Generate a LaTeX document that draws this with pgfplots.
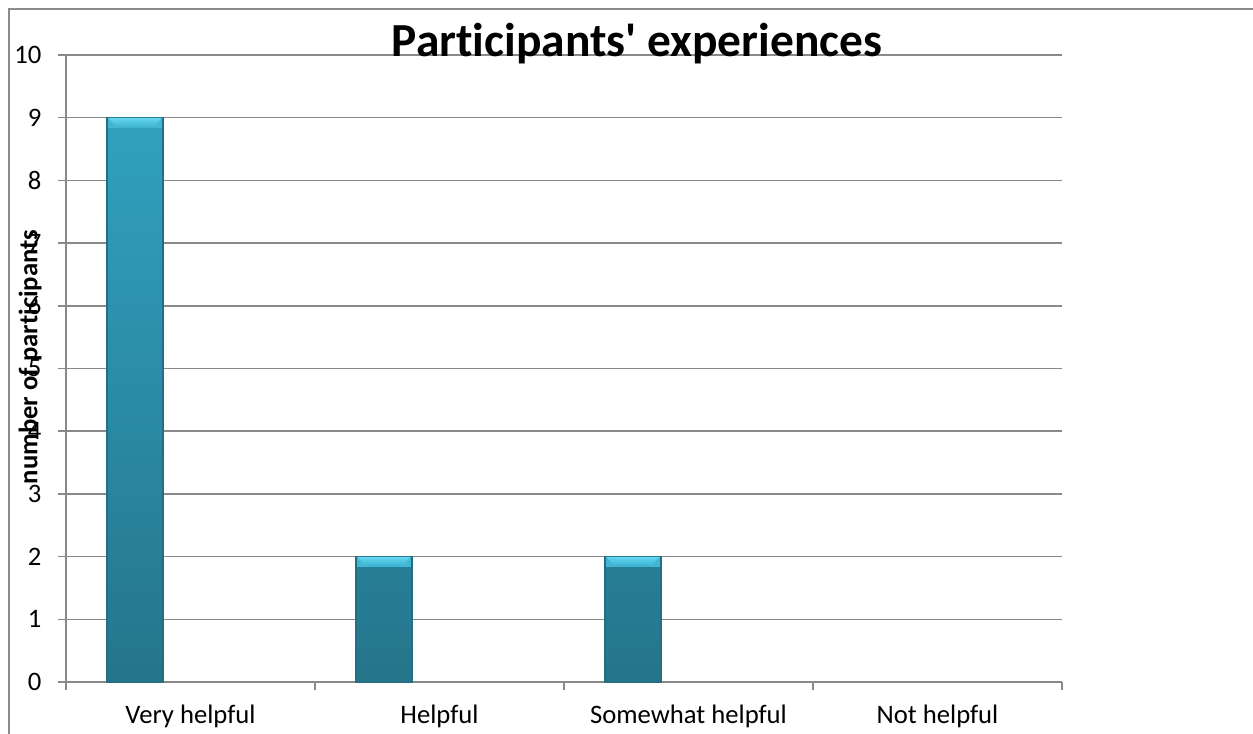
\documentclass[border=0pt]{standalone}
\usepackage{fontspec}
\setmainfont{Carlito}[Ligatures=NoCommon]
\usepackage{pgfplots}
\pgfplotsset{compat=1.18}

\definecolor{gridgray}{HTML}{898989}
\definecolor{framegray}{HTML}{8C8C8C}
\definecolor{bartop}{HTML}{31A1BF}
\definecolor{barbot}{HTML}{25758B}
\definecolor{baredge}{HTML}{236E83}
\definecolor{captop}{HTML}{62D6F0}
\definecolor{capbot}{HTML}{3AAFCC}
\definecolor{bevel}{HTML}{45B6D2}

% bar positions sit in the left part of each category slot
\pgfplotstableread{
x      n  label
0.277  9  {Very helpful}
1.277  2  {Helpful}
2.277  2  {Somewhat helpful}
3.277  0  {Not helpful}
}\experiences

\begin{document}
\begin{tikzpicture}
\useasboundingbox (-49.5pt,-38.25pt) rectangle (890.25pt,511.5pt);
% outer chart frame
\draw[framegray, line width=0.8pt] (-42.75pt,-80pt) -- (-42.75pt,504.75pt) -- (980pt,504.75pt);
\begin{axis}[
  at={(0,0)}, anchor=south west,
  scale only axis, width=747pt, height=470.25pt,
  xmin=0, xmax=4, ymin=0, ymax=10,
  separate axis lines,
  axis x line*=bottom, axis y line*=left,
  axis line style={draw=gridgray, line width=1.1pt, -},
  ytick={0,...,10},
  ymajorgrids,
  grid style={draw=gridgray, line width=1.1pt},
  xtick={0.5,1.5,2.5,3.5},
  xticklabels={Very helpful, Helpful, Somewhat helpful, Not helpful},
  minor xtick={0,1,2,3,4},
  tick align=outside,
  major tick length=6pt, minor tick length=6pt,
  major x tick style={draw=none},
  minor x tick style={draw=gridgray, line width=1.1pt},
  major y tick style={draw=gridgray, line width=1.1pt},
  tick label style={font=\fontsize{20}{24}\selectfont},
  /pgf/number format/assume math mode=true,
  yticklabel style={xshift=-9pt},
  xticklabel style={yshift=-7.5pt},
  unbounded coords=discard,
  clip=false,
]
% bar bodies
\addplot[ybar, bar width=0.225, bar shift=0,
  draw=baredge, line width=1pt,
  top color=bartop, bottom color=barbot,
  y filter/.expression={y==0 ? nan : y}]
  table[x=x, y=n] {\experiences};
% bevelled caps on the bar tops
\addplot[only marks, mark=none,
  y filter/.expression={y==0 ? nan : y},
  nodes near coords={},
  every node near coord/.style={anchor=north, inner sep=0pt,
    rectangle, draw=none, fill=bevel, minimum width=40pt, minimum height=7.5pt,
    path picture={
      \shade[draw=none, top color=captop, bottom color=capbot]
        (path picture bounding box.north west) --
        (path picture bounding box.north east) --
        ([xshift=-7pt]path picture bounding box.south east) --
        ([xshift=7pt]path picture bounding box.south west) -- cycle;}}]
  table[x=x, y=n] {\experiences};
\end{axis}
\node[anchor=base, font=\fontsize{35.6}{42}\selectfont\bfseries] at (428.25pt,469pt) {Participants\textquotesingle{} experiences};
\node[rotate=90, font=\fontsize{20}{24}\selectfont\bfseries] at (-27pt,243.75pt) {number of participants};
\end{tikzpicture}
\end{document}
